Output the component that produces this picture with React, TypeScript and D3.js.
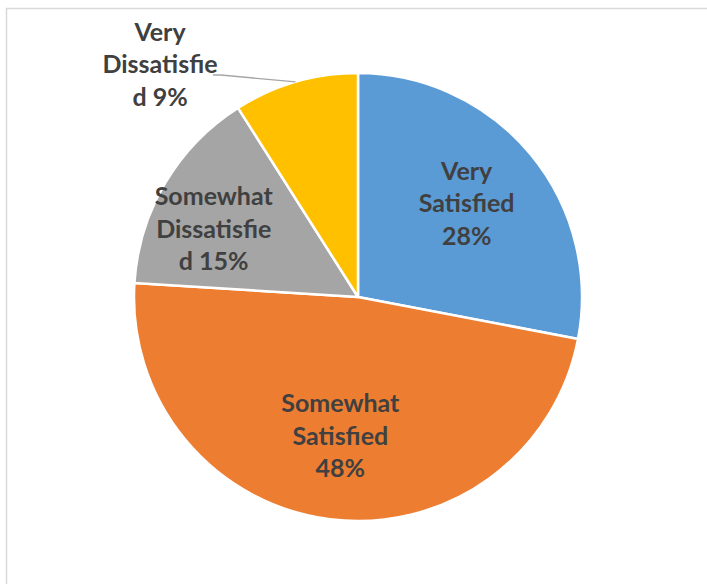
import React from "react";
import * as d3 from "d3";

const categories = ["Very Satisfied", "Somewhat Satisfied", "Somewhat Dissatisfied", "Very Dissatisfied"];
const values = [28, 48, 15, 9];
const labelLines = [
  ["Very", "Satisfied", "28%"],
  ["Somewhat", "Satisfied", "48%"],
  ["Somewhat", "Dissatisfie", "d 15%"],
  ["Very", "Dissatisfie", "d 9%"],
];
const colors = ["#5B9BD5", "#ED7D31", "#A5A5A5", "#FFC000"];

const W = 707;
const H = 584;
const cx = 358;
const cy = 297;
const R = 224;
const LINE = 32.5;

// layout tweaks for label placement (best-fit style)
const labelLayout = [
  { r: 141, dx: 0, dy: -5 },
  { r: 141, dx: 0, dy: -2 },
  { r: 156, dx: -10, dy: 10 },
  { r: 0, dx: 0, dy: 0 },
];

export default function App() {
  const pie = d3.pie<number>().sort(null).value((d) => d)(values);
  const arc = d3.arc<d3.PieArcDatum<number>>().innerRadius(0).outerRadius(R);

  return (
    <svg
      width={W}
      height={H}
      style={{ position: "absolute", left: 0, top: 0, display: "block" }}
      fontFamily="Lato, 'Noto Sans', sans-serif"
    >
      <rect x={0} y={0} width={W} height={H} fill="#fff" />
      <rect x={6.5} y={8.5} width={W + 20} height={H + 20} fill="none" stroke="#d9d9d9" strokeWidth={1.5} />
      <g transform={`translate(${cx},${cy})`}>
        {pie.map((p, i) => (
          <path key={categories[i]} d={arc(p) || ""} fill={colors[i]} stroke="#fff" strokeWidth={2.5} strokeLinejoin="round" />
        ))}
        {pie.map((p, i) => {
          const mid = (p.startAngle + p.endAngle) / 2;
          const lines = labelLines[i];
          if (i === 3) {
            const ex = R * Math.sin(mid);
            const ey = -R * Math.cos(mid);
            const lx = 221 - cx;
            const ly = 75 - cy;
            const tx = 160 - cx;
            const ty = 63 - cy;
            return (
              <g key={"l" + i}>
                <polyline points={`${ex},${ey} ${lx},${ly} ${lx - 8},${ly}`} fill="none" stroke="#a6a6a6" strokeWidth={1.3} />
                {lines.map((t, j) => (
                  <text
                    key={j}
                    x={tx}
                    y={ty + (j - 1) * LINE}
                    textAnchor="middle"
                    dominantBaseline="central"
                    fontSize={25}
                    fontWeight="bold"
                    fill="#404040"
                  >
                    {t}
                  </text>
                ))}
              </g>
            );
          }
          const L = labelLayout[i];
          const tx = L.r * Math.sin(mid) + L.dx;
          const ty = -L.r * Math.cos(mid) + L.dy;
          return (
            <g key={"l" + i}>
              {lines.map((t, j) => (
                <text
                  key={j}
                  x={tx}
                  y={ty + (j - 1) * LINE}
                  textAnchor="middle"
                  dominantBaseline="central"
                  fontSize={25}
                  fontWeight="bold"
                  fill="#404040"
                >
                  {t}
                </text>
              ))}
            </g>
          );
        })}
      </g>
    </svg>
  );
}
